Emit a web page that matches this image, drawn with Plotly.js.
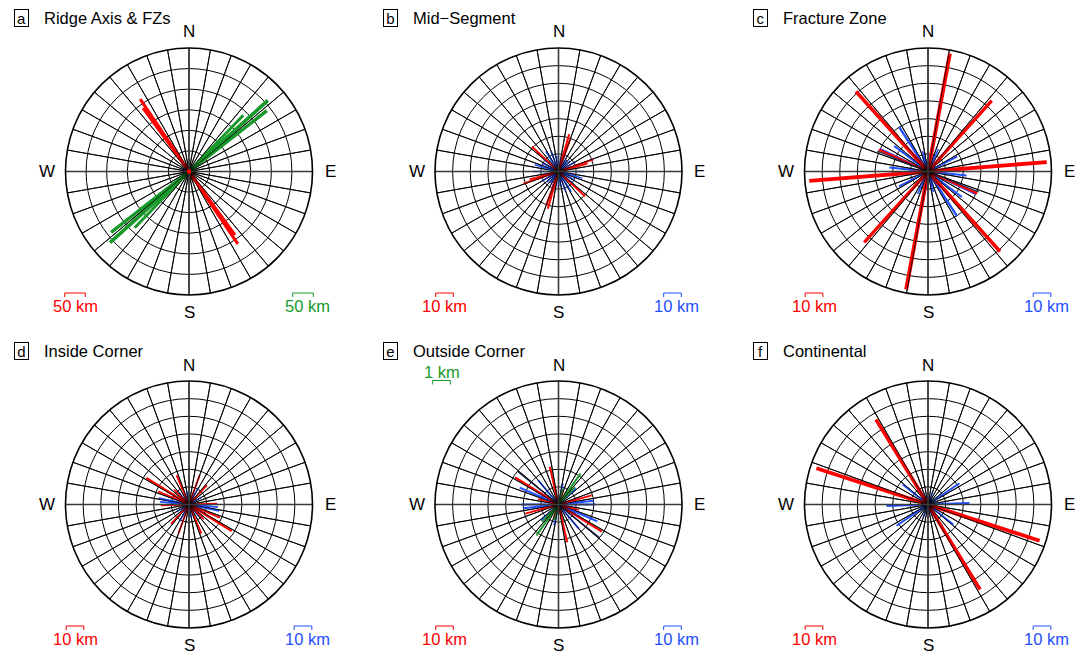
<!DOCTYPE html>
<html>
<head>
<meta charset="utf-8">
<script src="https://cdn.plot.ly/plotly-3.0.1.min.js"></script>
<style>
  html, body { margin: 0; padding: 0; background: #fff; }
  #rose { width: 1084px; height: 654px; }
</style>
</head>
<body>
<div id="rose"></div>
<script>
// Lineament azimuths (degrees from N) and lengths (km); each plotted as an axial line.

// (a) Ridge Axis & FZs
const aRedAz   = [326, 324];
const aRedKm   = [212, 190];
const aGreenAz = [48, 52, 44];
const aGreenKm = [258, 240, 190];

// (b) Mid-Segment
const bRedAz  = [16, 20, 71, 75, 313];
const bRedKm  = [22, 20, 21, 17, 20.5];
const bBlueAz = [0, 10, 22, 35, 48, 60, 75, 90, 106, 118, 130, 148, 160, 172];
const bBlueKm = [9, 8, 10, 8, 9, 11, 8, 14.5, 14, 10, 11, 13.5, 12, 9];

// (c) Fracture Zone
const cRedAz   = [10.5, 318, 42, 85.5, 294];
const cRedKm   = [68, 61, 54, 67.5, 30.5];
const cBlueAz  = [327, 295, 307, 276, 25, 63, 345, 5, 160];
const cBlueKm  = [30, 30, 24, 22, 14, 18.5, 12, 10, 9];
const cBlackAz = [112];
const cBlackKm = [31];

// (d) Inside Corner
const dRedAz  = [302, 293, 337, 20, 43, 88, 315];
const dRedKm  = [28.5, 19, 18, 17.5, 15, 16, 12];
const dBlueAz = [282, 275, 29, 60, 320, 350, 100];
const dBlueKm = [17.5, 16.5, 11, 8, 9, 8, 12];

// (e) Outside Corner
const eRedAz   = [302, 347, 74.5, 285, 20];
const eRedKm   = [29, 22, 19.5, 12, 8];
const eBlackAz = [309];
const eBlackKm = [30];
const eBlueAz  = [293.5, 270, 264, 48, 320, 12, 300];
const eBlueKm  = [24, 21, 20, 13.5, 18, 12, 15];
const eGreenAz = [35.5, 44, 15];
const eGreenKm = [2.15, 1.35, 0.9];

// (f) Continental
const fRedAz  = [328.5, 288];
const fRedKm  = [56.5, 66.5];
const fBlueAz = [88, 56, 308.5, 20, 160];
const fBlueKm = [23.5, 21.5, 18.3, 8, 7];

const letters = ['a', 'b', 'c', 'd', 'e', 'f'];
const titles  = ['Ridge Axis & FZs', 'Mid\u2212Segment', 'Fracture Zone',
                 'Inside Corner', 'Outside Corner', 'Continental'];
const cardinals = ['N', 'E', 'S', 'W'];

const RED = '#ff0000', BLUE = '#1f4fff', GREEN = '#179a2a', DARK = '#1b1f4a';

// series per panel: [azimuths, lengths, colour, scale factor, thin]
const panels = [
  { range: 300, step: 50, series: [[aRedAz, aRedKm, RED, 1], [aGreenAz, aGreenKm, GREEN, 1]],
    scales: [[50, RED, 1], [50, GREEN, 1]], centreDot: true },
  { range: 70, step: 10, series: [[bBlueAz, bBlueKm, BLUE, 1], [bRedAz, bRedKm, RED, 1]],
    scales: [[10, RED, 1], [10, BLUE, 1]] },
  { range: 70, step: 10, series: [[cBlueAz, cBlueKm, BLUE, 1], [cRedAz, cRedKm, RED, 1], [cBlackAz, cBlackKm, DARK, 1, true]],
    scales: [[10, RED, 1], [10, BLUE, 1]] },
  { range: 70, step: 10, series: [[dBlueAz, dBlueKm, BLUE, 1], [dRedAz, dRedKm, RED, 1]],
    scales: [[10, RED, 1], [10, BLUE, 1]] },
  { range: 70, step: 10, series: [[eBlueAz, eBlueKm, BLUE, 1], [eRedAz, eRedKm, RED, 1], [eBlackAz, eBlackKm, DARK, 1, true], [eGreenAz, eGreenKm, GREEN, 10]],
    scales: [[10, RED, 1], [10, BLUE, 1]], extraScale: [1, GREEN, 10] },
  { range: 70, step: 10, series: [[fBlueAz, fBlueKm, BLUE, 1], [fRedAz, fRedKm, RED, 1]],
    scales: [[10, RED, 1], [10, BLUE, 1]] }
];

const W = 1084, H = 654, R = 123.5;
const colX = [189, 558.5, 928];
const rowY = [171.5, 504.5];
const px = x => x / W;
const py = y => 1 - y / H;
const FONT = 'Liberation Sans, Arial, Helvetica, sans-serif';

const traces = [];
const layout = {
  width: W, height: H,
  margin: { l: 0, r: 0, t: 0, b: 0 },
  paper_bgcolor: '#fff',
  showlegend: false,
  annotations: [],
  shapes: []
};

const spokeAngles = [];
for (let a = 0; a < 180; a += 10) spokeAngles.push(a);

panels.forEach((p, i) => {
  const key = i === 0 ? 'polar' : 'polar' + (i + 1);
  const cx = colX[i % 3], cy = rowY[Math.floor(i / 3)];
  const ticks = [];
  for (let a = 0; a < 360; a += 10) ticks.push(a);

  layout[key] = {
    domain: { x: [px(cx - R), px(cx + R)], y: [py(cy + R), py(cy - R)] },
    bgcolor: '#fff',
    radialaxis: {
      range: [0, p.range], tick0: 0, dtick: p.step,
      showticklabels: false, ticks: '', showline: false,
      gridcolor: '#000', gridwidth: 1
    },
    angularaxis: {
      direction: 'clockwise', rotation: 90,
      tickmode: 'array', tickvals: ticks, showticklabels: false, ticks: '',
      gridcolor: '#000', gridwidth: 1,
      showline: true, linecolor: '#000', linewidth: 1.6
    }
  };

  // axial lines: one trace per lineament, through the centre
  p.series.forEach(([az, km, colour, factor, thin]) => {
    az.forEach((a, j) => {
      const r = km[j] * factor;
      traces.push({
        type: 'scatterpolar', subplot: key, mode: 'lines',
        r: [r, 0, r], theta: [a, a, a + 180],
        line: { color: colour, width: thin ? 1.3 : 1.1 + 2.9 * r / p.range },
        hoverinfo: 'skip'
      });
    });
  });

  // spokes redrawn over the lineaments
  const sr = [], st = [];
  spokeAngles.forEach(a => {
    if (a % 90 === 0) return;
    sr.push(p.range, 0, p.range, null);
    st.push(a, a, a + 180, null);
  });
  traces.push({
    type: 'scatterpolar', subplot: key, mode: 'lines', r: sr, theta: st,
    line: { color: '#000', width: 0.8 }, hoverinfo: 'skip'
  });
  traces.push({
    type: 'scatterpolar', subplot: key, mode: 'lines',
    r: [p.range, 0, p.range, null, p.range, 0, p.range],
    theta: [0, 0, 180, null, 90, 90, 270],
    line: { color: '#3a3a3a', width: 1.6 }, hoverinfo: 'skip'
  });
  if (p.centreDot) {
    traces.push({
      type: 'scatterpolar', subplot: key, mode: 'markers', r: [0], theta: [0],
      marker: { color: RED, size: 4, symbol: 'square' }, hoverinfo: 'skip'
    });
  }

  // panel letter and title
  const ty = cy - 153.5;
  layout.annotations.push({
    xref: 'paper', yref: 'paper', x: px(cx - 168), y: py(ty),
    xanchor: 'center', yanchor: 'middle', text: letters[i], showarrow: false,
    font: { family: FONT, size: 15, color: '#000' },
    bordercolor: '#000', borderwidth: 1, borderpad: 0, width: 13, height: 16
  });
  layout.annotations.push({
    xref: 'paper', yref: 'paper', x: px(cx - 147.5), y: py(ty),
    xanchor: 'left', yanchor: 'middle', text: titles[i], showarrow: false,
    font: { family: FONT, size: 16.5, color: '#000' }
  });

  // compass letters
  const cpos = [[cx, cy - 139.5], [cx + 141, cy], [cx, cy + 140.5], [cx - 142, cy]];
  cardinals.forEach((c, k) => {
    layout.annotations.push({
      xref: 'paper', yref: 'paper', x: px(cpos[k][0]), y: py(cpos[k][1]),
      xanchor: 'center', yanchor: 'middle', text: c, showarrow: false,
      font: { family: FONT, size: 17, color: '#000' }
    });
  });

  // scale brackets
  const bracket = (xc, yb, km, colour, factor) => {
    const w = km * factor / p.range * R;
    const x0 = xc - w / 2, x1 = xc + w / 2;
    layout.shapes.push({
      type: 'path', xref: 'paper', yref: 'paper',
      path: `M ${px(x0)},${py(yb + 4)} L ${px(x0)},${py(yb)} L ${px(x1)},${py(yb)} L ${px(x1)},${py(yb + 4)}`,
      line: { color: colour, width: 1 }
    });
  };
  const [lKm, lCol, lF] = p.scales[0];
  const [rKm, rCol, rF] = p.scales[1];
  bracket(cx - 114, cy + 121.5, lKm, lCol, lF);
  bracket(cx + 114, cy + 121.5, rKm, rCol, rF);
  layout.annotations.push({
    xref: 'paper', yref: 'paper', x: px(cx - 114), y: py(cy + 134.5),
    xanchor: 'center', yanchor: 'middle', text: lKm + ' km', showarrow: false,
    font: { family: FONT, size: 16.5, color: lCol }
  });
  layout.annotations.push({
    xref: 'paper', yref: 'paper', x: px(cx + 118), y: py(cy + 134.5),
    xanchor: 'center', yanchor: 'middle', text: rKm + ' km', showarrow: false,
    font: { family: FONT, size: 16.5, color: rCol }
  });
  if (p.extraScale) {
    const [gKm, gCol, gF] = p.extraScale;
    layout.annotations.push({
      xref: 'paper', yref: 'paper', x: px(cx - 117), y: py(cy - 133),
      xanchor: 'center', yanchor: 'middle', text: gKm + ' km', showarrow: false,
      font: { family: FONT, size: 16.5, color: gCol }
    });
    bracket(cx - 117, cy - 124, gKm, gCol, gF);
  }
});

Plotly.newPlot('rose', traces, layout, { staticPlot: true, displayModeBar: false });
</script>
</body>
</html>
